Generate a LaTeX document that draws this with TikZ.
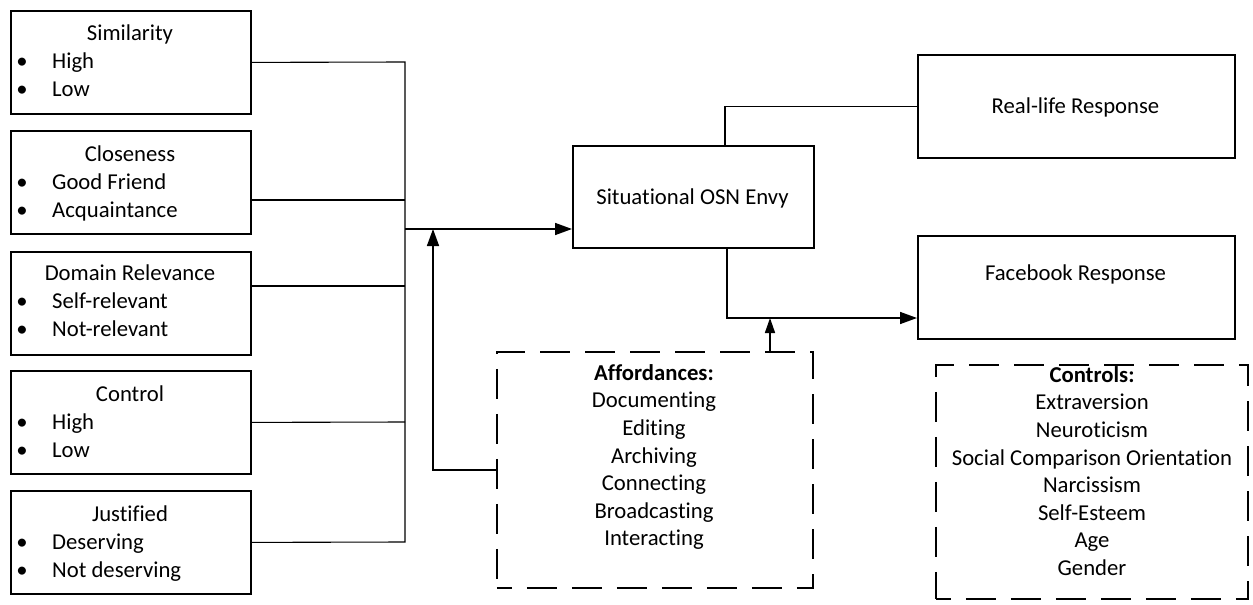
\documentclass[tikz,border=0pt]{standalone}
\usepackage{fontspec}
\setmainfont{Carlito}[Ligatures=NoCommon]
\usetikzlibrary{arrows.meta}
\begin{document}
\begin{tikzpicture}[x=1pt,y=-1pt,
  every node/.style={font=\fontsize{22.7}{27.6}\selectfont, inner sep=0pt},
  sbox/.style={draw, line width=1.8pt, minimum width=240pt, minimum height=103pt, anchor=north west},
  rbox/.style={draw, line width=1.8pt, minimum width=317pt, minimum height=103pt, anchor=north west},
  dbox/.style={draw, line width=1.8pt, dash pattern=on 30pt off 15pt, dash phase=15pt, anchor=north west},
  conn/.style={line width=1.1pt},
  aconn/.style={line width=1.6pt, -{Triangle[length=17pt,width=12pt]}},
  title/.style={anchor=base},
  item/.style={anchor=base west},
  bul/.style={anchor=base}
]
\useasboundingbox (0,0) rectangle (1253,605);

% left boxes
\node[sbox] (s1) at (10,10) {};
\node[sbox] (s2) at (10,130) {};
\node[sbox] (s3) at (10,251) {};
\node[sbox] (s4) at (10,370) {};
\node[sbox] (s5) at (10,490) {};

\node[title] (t1) at (130,40) {Similarity};
\node[bul] (b11) at (22,68) {•}; \node[item] (i11) at (52,68) {High};
\node[bul] (b12) at (22,96) {•}; \node[item] (i12) at (52,96) {Low};

\node[title] (t2) at (130,161) {Closeness};
\node[bul] (b21) at (22,189) {•}; \node[item] (i21) at (52,189) {Good Friend};
\node[bul] (b22) at (22,217) {•}; \node[item] (i22) at (52,217) {Acquaintance};

\node[title] (t3) at (130,280) {Domain Relevance};
\node[bul] (b31) at (22,308) {•}; \node[item] (i31) at (52,308) {Self-relevant};
\node[bul] (b32) at (22,336) {•}; \node[item] (i32) at (52,336) {Not-relevant};

\node[title] (t4) at (130,401) {Control};
\node[bul] (b41) at (22,429) {•}; \node[item] (i41) at (52,429) {High};
\node[bul] (b42) at (22,457) {•}; \node[item] (i42) at (52,457) {Low};

\node[title] (t5) at (130,521) {Justified};
\node[bul] (b51) at (22,549) {•}; \node[item] (i51) at (52,549) {Deserving};
\node[bul] (b52) at (22,577) {•}; \node[item] (i52) at (52,577) {Not deserving};

% central and right boxes
\node[draw, line width=1.8pt, minimum width=241pt, minimum height=102pt, anchor=north west] (env) at (572,145) {};
\node[anchor=base] (envt) at (692.5,204) {Situational OSN Envy};

\node[rbox] (real) at (917,54) {};
\node[anchor=base] (realt) at (1075.5,113) {Real-life Response};

\node[rbox] (fb) at (917,235) {};
\node[anchor=base] (fbt) at (1075.5,280) {Facebook Response};

\node[dbox, minimum width=316pt, minimum height=236pt] (aff) at (496,351) {};
\node[align=center, anchor=center] (afft) at (654,457) {\textbf{Affordances:}\\Documenting\\Editing\\Archiving\\Connecting\\Broadcasting\\Interacting};

\node[dbox, minimum width=312pt, minimum height=234pt] (ctl) at (935,364) {};
\node[align=center, anchor=center] (ctlt) at (1092,471) {\textbf{Controls:}\\Extraversion\\Neuroticism\\Social Comparison Orientation\\Narcissism\\Self-Esteem\\Age\\Gender};

% bus
\coordinate (bt) at (405,62);
\coordinate (bb) at (405,542);
\coordinate (p2) at (405,200);
\coordinate (p3) at (405,286);
\coordinate (p4) at (405,422);
\coordinate (j) at (405,229);
\coordinate (aj) at (433,229);

\draw[conn] (s1.east) -- (bt) -- (bb) -- (s5.east);
\draw[conn] (s2.east |- p2) -- (p2);
\draw[conn] (s3.east |- p3) -- (p3);
\draw[conn] (s4.east) -- (p4);

\draw[aconn] (j) -- (env.west |- j);
\draw[aconn] (aff.west) -| (aj);

% envy outputs
\coordinate (et) at (725,145);
\coordinate (eb) at (727,247);
\coordinate (fj) at (727,318);
\coordinate (aj2) at (770,318);
\coordinate (at2) at (770,351);

\draw[line width=1.4pt] (et) |- (real.west);
\draw[aconn] (eb) -- (fj) -- (fb.west |- fj);
\draw[line width=1.6pt, -{Triangle[length=15pt,width=10pt]}] (at2) -- (aj2);
\end{tikzpicture}
\end{document}
